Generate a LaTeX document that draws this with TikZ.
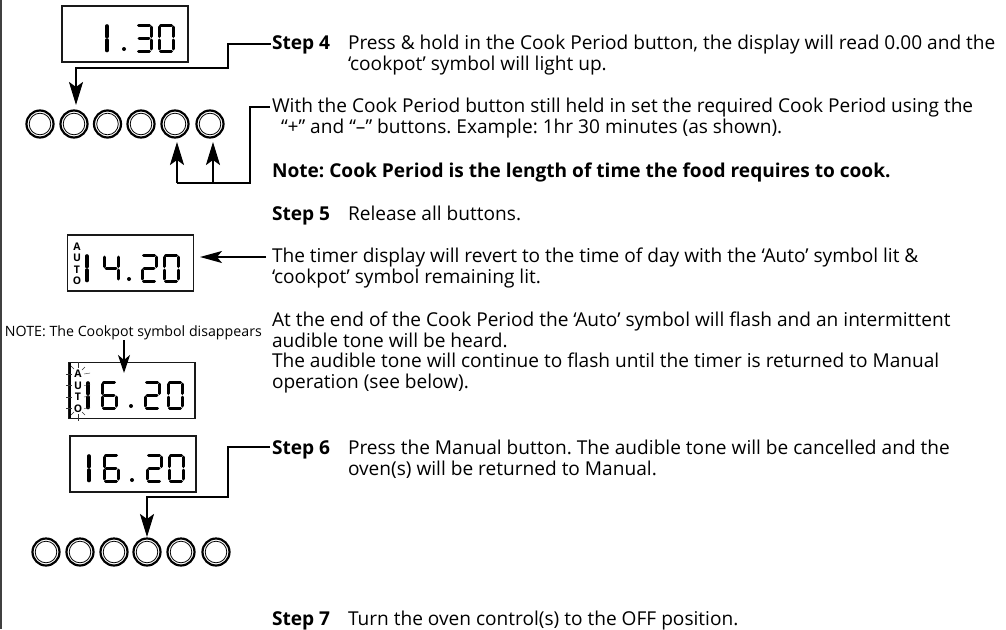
\documentclass[tikz,border=0pt]{standalone}
\usepackage{fontspec}
\setmainfont{Open Sans}
\usetikzlibrary{arrows.meta}
\frenchspacing
\tikzset{
  x=1pt,y=-1pt,
  txt/.style={anchor=base west,inner sep=0pt,outer sep=0pt,align=left,font=\fontsize{19.1}{20.6}\selectfont,text=black},
  dispbox/.style={draw=black!90,line width=1.5pt,minimum width=126pt,minimum height=56pt,inner sep=0pt},
  btn/.style={circle,draw=black,line width=2.2pt,minimum size=27pt,inner sep=0pt,
    path picture={\draw[black,line width=.8pt] (path picture bounding box.center) circle (10.8pt);}},
  conn/.style={draw=black,line width=2.2pt},
  arr/.style={conn,-{Stealth[length=23pt,width=14pt,inset=5pt]}},
  seg/.style={line width=3pt,black,line cap=round},
  autoL/.style={inner sep=0pt,font=\fontsize{10.5}{11}\bfseries\selectfont},
  ray/.style={line width=.4pt,black!80},
}
% seven-segment digit: origin top-left, 16 wide, 28 high
\newcommand{\sA}{\draw[seg] (2.5,1.2)--(13.5,1.2);}
\newcommand{\sB}{\draw[seg] (15,3)--(15,12.5);}
\newcommand{\sC}{\draw[seg] (15,16)--(15,25);}
\newcommand{\sD}{\draw[seg] (2.5,27)--(13.5,27);}
\newcommand{\sE}{\draw[seg] (1,16)--(1,25);}
\newcommand{\sF}{\draw[seg] (1,3)--(1,12.5);}
\newcommand{\sG}{\draw[seg] (3,14.2)--(13,14.2);}
\newcommand{\dOne}[2]{\begin{scope}[shift={(#1,#2)}]\draw[seg,line width=3.6pt] (0,2)--(0,12.5);\draw[seg,line width=3.6pt] (0,16)--(0,26.5);\end{scope}}
\newcommand{\dZero}[2]{\begin{scope}[shift={(#1,#2)}]\sA\sB\sC\sD\sE\sF\end{scope}}
\newcommand{\dTwo}[2]{\begin{scope}[shift={(#1,#2)}]\sA\sB\sG\sE\sD\end{scope}}
\newcommand{\dThree}[2]{\begin{scope}[shift={(#1,#2)}]\sA\sB\sG\sC\sD\end{scope}}
\newcommand{\dFour}[2]{\begin{scope}[shift={(#1,#2)}]\sF\sG\sB\sC\end{scope}}
\newcommand{\dSix}[2]{\begin{scope}[shift={(#1,#2)}]\sA\sF\sG\sE\sC\sD\end{scope}}
\newcommand{\dDot}[2]{\fill[black] (#1,#2) circle (2pt);}
\newcommand{\btnrow}[8]{%
  \node[btn] (#1a) at (#3,#2) {};\node[btn] (#1b) at (#4,#2) {};\node[btn] (#1c) at (#5,#2) {};
  \node[btn] (#1d) at (#6,#2) {};\node[btn] (#1e) at (#7,#2) {};\node[btn] (#1f) at (#8,#2) {};}
\begin{document}
\begin{tikzpicture}
\useasboundingbox (0,0) rectangle (1006,629);
\fill[white] (0,0) rectangle (1006,629);
\coordinate (edgeT) at (1,0); \coordinate (edgeB) at (1,629);
\draw[line width=1.6pt,black!75] (edgeT)--(edgeB);

% displays
\node[dispbox] (d1) at (125,34) {};
\dOne{107}{24}\dDot{124}{49}\dThree{136}{24}\dZero{158}{24}
\node[dispbox] (d2) at (130.5,263) {};
\node[autoL] (a2a) at (77,247) {A};\node[autoL] (a2u) at (77,258) {U};\node[autoL] (a2t) at (77,270) {T};\node[autoL] (a2o) at (77,281) {O};
\dOne{87}{254}\dFour{103}{254}\dDot{129}{279}\dTwo{141}{254}\dZero{163}{254}
\node[dispbox] (d3) at (132,390.5) {};
\node[autoL] (a3a) at (78,374) {A};\node[autoL] (a3u) at (78,385.5) {U};\node[autoL] (a3t) at (78,397) {T};\node[autoL] (a3o) at (78,408.5) {O};
\draw[line width=1.8pt,black] (70,363)--(70,418);
\dOne{88}{381}\dSix{101}{381}\dDot{131}{406}\dTwo{144}{381}\dZero{167}{381}
\foreach \yy in {374,385.5,397,408.5}{
  \draw[ray] (66,\yy)--(72,\yy);
  \draw[ray] (84,\yy)--(90,\yy-1);
}
\draw[ray] (78,362)--(78,368);\draw[ray] (78,414)--(78,421);
\draw[ray] (71,366)--(74,369);\draw[ray] (85,367)--(82,370);\draw[ray] (71,415)--(74,412);\draw[ray] (85,415)--(82,412);
\node[dispbox] (d4) at (133,464) {};
\dOne{89}{454}\dSix{103}{454}\dDot{132}{480}\dTwo{146}{454}\dZero{168}{454}

% buttons
\btnrow{p}{124}{40}{74}{107.5}{141}{175}{210}
\btnrow{q}{552}{46}{80}{114}{147}{181}{216}

% texts (base anchors sit on the last line of a multi-line node)
\node[txt] (s4) at (272,49) {\textbf{Step 4}};
\node[txt] (t4) at (348,70) {Press \& hold in the Cook Period button, the display will read 0.00 and the\\‘cookpot’ symbol will light up.};
\node[txt] (t4b) at (272,133.5) {With the Cook Period button still held in set the required Cook Period using the\\\hspace*{9pt}“+” and “–” buttons. Example: 1hr 30 minutes (as shown).};
\node[txt] (n4) at (272,177) {\textbf{Note: Cook Period is the length of time the food requires to cook.}};
\node[txt] (s5) at (272,220) {\textbf{Step 5}};
\node[txt] (t5) at (348,220) {Release all buttons.};
\node[txt] (t5b) at (272,283) {The timer display will revert to the time of day with the ‘Auto’ symbol lit \&\\‘cookpot’ symbol remaining lit.};
\node[txt] (t5c) at (272,388.5) {At the end of the Cook Period the ‘Auto’ symbol will flash and an intermittent\\audible tone will be heard.\\The audible tone will continue to flash until the timer is returned to Manual\\operation (see below).};
\node[txt,font=\fontsize{14.2}{15}\selectfont] (nt) at (5,336) {NOTE: The Cookpot symbol disappears};
\node[txt] (s6) at (272,454) {\textbf{Step 6}};
\node[txt] (t6) at (348,475) {Press the Manual button. The audible tone will be cancelled and the\\oven(s) will be returned to Manual.};
\node[txt] (s7) at (272,625) {\textbf{Step 7}};
\node[txt] (t7) at (348,625) {Turn the oven control(s) to the OFF position.};

% connector ends
\coordinate (e1) at (76,105);
\coordinate (e2) at (177,142);
\coordinate (e3) at (213,142);
\coordinate (e4) at (200,257);
\coordinate (e5) at (124,373);
\coordinate (e6) at (147,537);
\coordinate (c1s) at (271,44);
\coordinate (c2s) at (270,107);
\coordinate (c3s) at (266,257);
\coordinate (c4s) at (124,340);
\coordinate (c5s) at (270,447);

\draw[arr] (c1s) -- (228,44) -- (228,68) -- (76,68) -- (e1);
\draw[conn] (c2s) -- (250,107) -- (250,183) -- (177,183);
\draw[arr] (177,183) -- (e2);
\draw[arr] (213,183) -- (e3);
\draw[arr,line width=1.6pt,-{Stealth[length=22pt,width=12pt,inset=5pt]}] (c3s) -- (e4);
\draw[arr,-{Stealth[length=18pt,width=12pt,inset=5pt]}] (c4s) -- (e5);
\draw[arr] (c5s) -- (228,447) -- (228,497) -- (147,497) -- (e6);
\end{tikzpicture}
\end{document}
